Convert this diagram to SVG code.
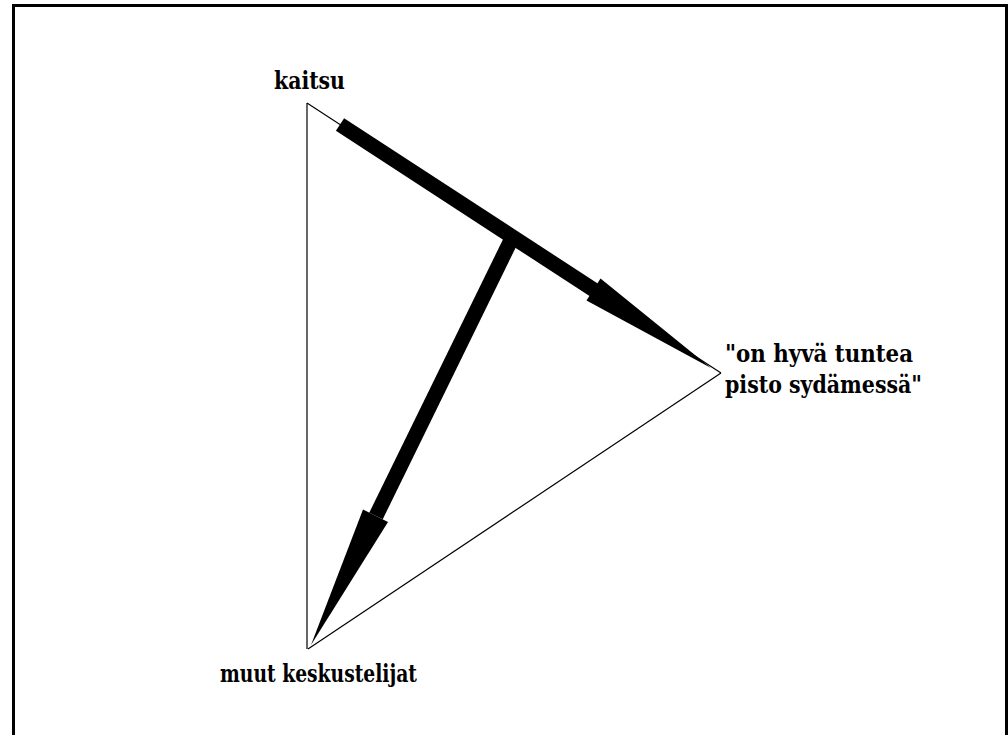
<svg xmlns="http://www.w3.org/2000/svg" width="1008" height="735" viewBox="0 0 1008 735">
<style>
.lbl{font-family:"DejaVu Serif","Liberation Serif",serif;font-stretch:condensed;font-weight:bold;font-size:25px;fill:#000}
.thin{stroke:#000;stroke-width:1.2;fill:none}
.thick{stroke:#000;stroke-width:15;fill:none;stroke-linecap:butt}
</style>
<rect x="0" y="0" width="1008" height="735" fill="#fff"/>
<rect x="13.5" y="5.5" width="993" height="745" fill="none" stroke="#000" stroke-width="3"/>
<g id="connectors">
<line class="thin" x1="307" y1="103" x2="721" y2="373"/>
<line class="thin" x1="307" y1="103" x2="307" y2="649"/>
<line class="thin" x1="721" y1="373" x2="308" y2="649"/>
<line class="thick" x1="340" y1="124.5" x2="594" y2="290"/>
<polygon points="600.5,278.5 586.5,300.5 711,368" fill="#000"/>
<line class="thick" x1="513" y1="236" x2="376" y2="516"/>
<polygon points="388,522 363,509.5 311,645" fill="#000"/>
</g>
<g id="kaitsu"><text class="lbl" x="274" y="89" textLength="71" lengthAdjust="spacingAndGlyphs">kaitsu</text></g>
<g id="pisto"><text class="lbl" x="725" y="362" textLength="188" lengthAdjust="spacingAndGlyphs">"on hyvä tuntea</text><text class="lbl" x="725" y="393" textLength="197" lengthAdjust="spacingAndGlyphs">pisto sydämessä"</text></g>
<g id="muut"><text class="lbl" x="220" y="682" textLength="197" lengthAdjust="spacingAndGlyphs">muut keskustelijat</text></g>
</svg>
